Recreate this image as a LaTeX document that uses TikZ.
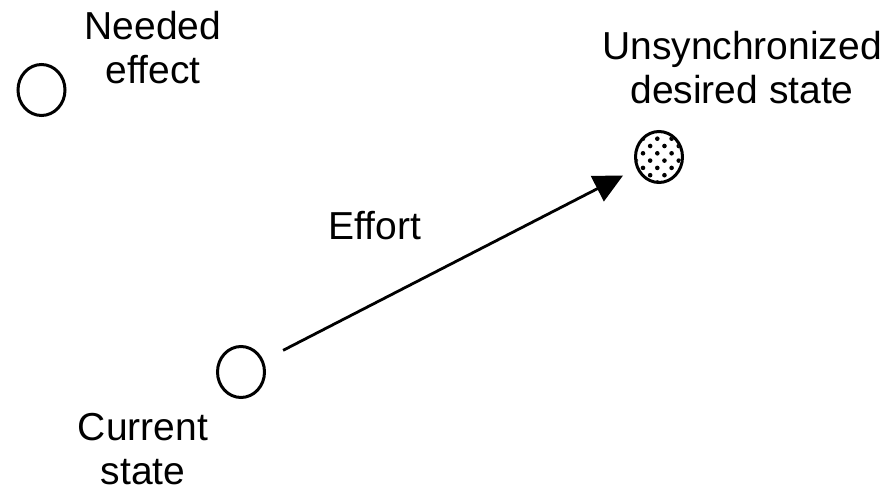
\documentclass[tikz,border=0pt]{standalone}
\usepackage{fontspec}
\setmainfont{Liberation Sans}
\usetikzlibrary{arrows.meta,shapes.geometric}
\begin{document}
\begin{tikzpicture}[x=1pt,y=-1pt,
  lbl/.style={font=\fontsize{39}{44}\selectfont, align=center, inner sep=0pt, anchor=base},
  statenode/.style={draw, line width=3pt, ellipse, minimum width=47pt, minimum height=51pt, inner sep=0pt}
]
\useasboundingbox (0,0) rectangle (889,492);
% states
\node[statenode] (needed) at (41.5,90) {};
\node[statenode] (current) at (241,372) {};
\node[statenode] (desired) at (659,157) {};
\begin{scope}
  \clip (659,157) ellipse [x radius=22pt, y radius=24pt];
  \foreach \j in {-4,...,4}{
    \foreach \i in {-3,...,3}{
      \pgfmathsetmacro{\xx}{657.3 + 14.3*\i + 7.15*mod(abs(\j),2)}
      \pgfmathsetmacro{\yy}{153.3 + 7.3*\j}
      \fill (\xx,\yy) circle [radius=2.3pt];
    }
  }
\end{scope}
% labels
\node[lbl] (tneeded) at (153,84) {Needed\\effect};
\node[lbl] (tdesired) at (742,104) {Unsynchronized\\desired state};
\node[lbl] (tcurrent) at (143,484) {Current\\state};
\node[lbl] (teffort) at (375,239) {Effort};
% effort arrow
\draw[line width=2.8pt, -{Triangle[length=29pt,width=28pt]}, shorten <=22pt, shorten >=15pt] (current) -- (desired);
\end{tikzpicture}
\end{document}
